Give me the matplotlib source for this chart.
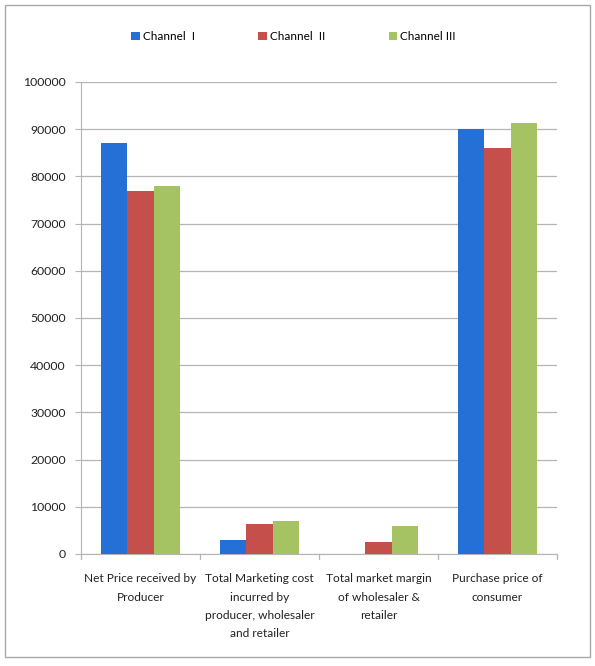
import numpy as np
import matplotlib.pyplot as plt
from matplotlib.patches import Rectangle

categories = ['Net Price received by\nProducer',
              'Total Marketing cost\nincurred by\nproducer, wholesaler\nand retailer',
              'Total market margin\nof wholesaler &\nretailer',
              'Purchase price of\nconsumer']
series_names = ['Channel  I', 'Channel  II', 'Channel III']
channel_1 = [87000, 3000, 0, 90000]
channel_2 = [77000, 6300, 2500, 86000]
channel_3 = [78000, 7000, 6000, 91300]
colors = ['#2470D6', '#C44F4B', '#A6C363']

plt.rcParams['font.family'] = ['Lato', 'DejaVu Sans']

fig = plt.figure(figsize=(5.95, 6.66), dpi=100)
W, H = 595, 666
ax = fig.add_axes([81 / W, 1 - 554 / H, (557 - 81) / W, (554 - 82) / H])

x = np.arange(len(categories))
bw = 0.222
for i, (vals, name) in enumerate(zip([channel_1, channel_2, channel_3], series_names)):
    ax.bar(x + (i - 1) * bw, vals, width=bw, color=colors[i], label=name, zorder=3)

ax.set_xlim(-0.5, 3.5)
ax.set_ylim(0, 100000)
ax.set_yticks(np.arange(0, 100001, 10000))
ax.yaxis.grid(True, color='#B4B4B4', lw=0.9, zorder=0)
ax.tick_params(axis='y', length=4, colors='#B4B4B4', labelcolor='#222222', labelsize=8.8, pad=7)

ax.set_xticks(x)
ax.set_xticklabels(categories, fontsize=8.6, color='#222222', linespacing=1.8)
ax.tick_params(axis='x', length=0, pad=14)
for b in np.arange(-0.5, 3.6, 1.0):
    ax.plot([b, b], [0, -1000], color='#B4B4B4', lw=0.9, clip_on=False)

for s in ['top', 'right']:
    ax.spines[s].set_visible(False)
ax.spines['left'].set_color('#B4B4B4')
ax.spines['bottom'].set_color('#B4B4B4')

ax.legend(loc='center', bbox_to_anchor=(0.5 * (595 / 476) - 81 / 476 - 0.008, 1 + (554 - 37) / 472 - 1),
          ncol=3, frameon=False, fontsize=8.5, handlelength=0.7, handleheight=0.7,
          handletextpad=0.3, columnspacing=5.35)

fig.patches.append(Rectangle((5 / W, 1 - 657 / H), 585 / W, 652 / H, transform=fig.transFigure,
                             fill=False, edgecolor='#A8A8A8', lw=1))

fig.savefig('out.png', dpi=100)
